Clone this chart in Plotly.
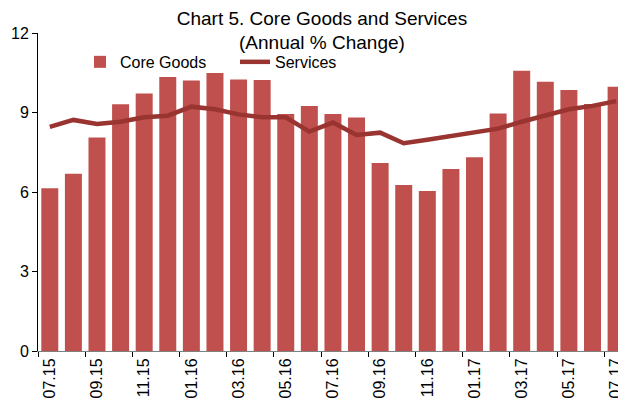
import plotly.graph_objects as go

months = ["07.15", "08.15", "09.15", "10.15", "11.15", "12.15", "01.16", "02.16", "03.16",
          "04.16", "05.16", "06.16", "07.16", "08.16", "09.16", "10.16", "11.16", "12.16",
          "01.17", "02.17", "03.17", "04.17", "05.17", "06.17", "07.17"]
core_goods = [6.14, 6.69, 8.06, 9.31, 9.72, 10.34, 10.21, 10.49, 10.25, 10.23, 8.94, 9.25,
              8.94, 8.81, 7.09, 6.26, 6.04, 6.87, 7.31, 8.96, 10.58, 10.16, 9.85, 9.32, 9.97]
services = [8.46, 8.72, 8.57, 8.65, 8.82, 8.88, 9.22, 9.12, 8.93, 8.82, 8.82, 8.28,
            8.62, 8.15, 8.24, 7.84, 7.97, 8.11, 8.25, 8.39, 8.65, 8.90, 9.12, 9.25, 9.43]
tick_labels = months[::2]
y_ticks = [0, 3, 6, 9, 12]

FONT = "Liberation Sans, Arial, sans-serif"

fig = go.Figure()
fig.add_trace(go.Bar(x=months, y=core_goods, name="Core Goods",
                     marker=dict(color="#C0504D", line=dict(width=0))))
fig.add_trace(go.Scatter(x=months, y=services, name="Services", mode="lines",
                         line=dict(color="#993431", width=4.5)))

n = len(months)
x_range = [-0.5, 24.42]
# the page body adds an 8px offset, so the figure is sized to the visible window
fig.update_layout(
    width=618, height=395,
    margin=dict(l=30, r=0, t=25, b=52, autoexpand=False),
    paper_bgcolor="white", plot_bgcolor="white",
    font=dict(family=FONT, color="black", size=16),
    title=dict(text="Chart 5. Core Goods and Services<br>(Annual % Change)",
               x=0.508, xanchor="center", y=0.958, yanchor="bottom",
               font=dict(family=FONT, size=19, color="black")),
    bargap=0.28,
    showlegend=True,
    legend=dict(orientation="h", x=0.0714, xanchor="left", y=0.909, yanchor="middle",
                bgcolor="rgba(0,0,0,0)", font=dict(family=FONT, size=16),
                entrywidth=110, entrywidthmode="pixels", traceorder="normal"),
    xaxis=dict(type="category", categoryorder="array", categoryarray=months,
               range=x_range, tickmode="array", tickvals=tick_labels, automargin=False,
               ticktext=tick_labels, tickangle=-90, ticks="", showgrid=False,
               showline=True, linecolor="#808080", linewidth=1,
               tickfont=dict(family=FONT, size=16, color="black")),
    xaxis2=dict(overlaying="x", anchor="y", side="bottom", range=x_range, automargin=False,
                tickmode="array", tickvals=[i - 0.5 for i in range(0, n, 2)],
                ticks="outside", ticklen=5, tickcolor="black", tickwidth=1,
                showticklabels=False, showgrid=False, showline=False, zeroline=False),
    yaxis=dict(range=[0, 12], tickmode="array", tickvals=y_ticks, ticks="outside",
               ticklen=5, tickcolor="black", showgrid=False, zeroline=False, automargin=False,
               showline=True, linecolor="black", linewidth=1,
               tickfont=dict(family=FONT, size=16, color="black")),
)
fig.add_trace(go.Scatter(x=x_range, y=[0, 0], xaxis="x2", yaxis="y", mode="lines",
                         line=dict(color="rgba(0,0,0,0)"), showlegend=False, hoverinfo="skip"))

fig.write_html("out.html")
